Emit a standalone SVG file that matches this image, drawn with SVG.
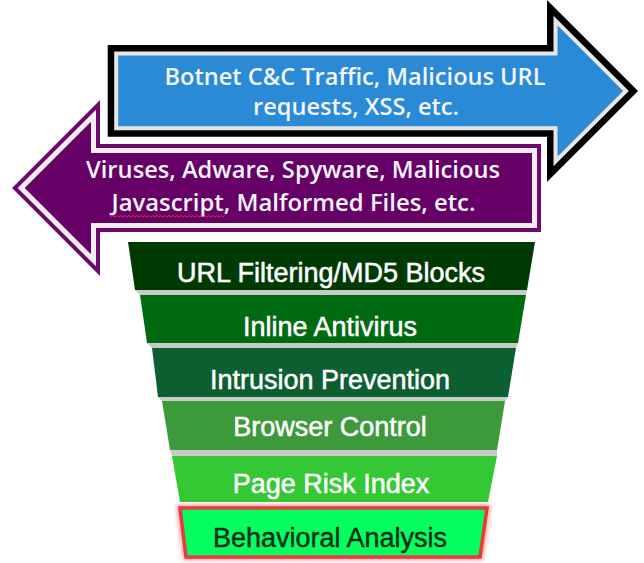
<svg xmlns="http://www.w3.org/2000/svg" width="644" height="563" viewBox="0 0 644 563">
  <defs>
    <style>
      .arrowtxt { font-family: "Open Sans", Lato, "DejaVu Sans", sans-serif; font-weight: 600; font-size: 24px; fill: #f2f5fb; text-anchor: middle; }
      .layertxt { font-family: "Liberation Sans", Arial, sans-serif; font-size: 27px; fill: #ffffff; stroke: #ffffff; stroke-width: 0.5; text-anchor: middle; }
      .gap { fill: #c9c9c9; }
    </style>
    <filter id="glow" x="-10%" y="-20%" width="120%" height="140%">
      <feGaussianBlur stdDeviation="2"/>
    </filter>
  </defs>
  <rect width="644" height="563" fill="#ffffff"/>

  <g id="arrow-out">
    <path d="M116.2,53.5 L555.5,53.5 L555.5,20.5 L626,91 L555.5,161.5 L555.5,128.2 L116.2,128.2 Z" fill="#2a8ad6" stroke="#000000" stroke-width="17" stroke-linejoin="miter"/>
    <path d="M116.2,53.5 L555.5,53.5 L555.5,20.5 L626,91 L555.5,161.5 L555.5,128.2 L116.2,128.2 Z" fill="#2a8ad6" stroke="#e6e6e6" stroke-width="4" stroke-linejoin="miter"/>
    <text class="arrowtxt" x="355" y="85" textLength="381" lengthAdjust="spacingAndGlyphs">Botnet C&amp;C Traffic, Malicious URL</text>
    <text class="arrowtxt" x="356" y="115" textLength="206" lengthAdjust="spacingAndGlyphs">requests, XSS, etc.</text>
  </g>

  <g id="arrow-in">
    <path d="M21.2,188 L93.5,115.7 L93.5,150.5 L534.5,150.5 L534.5,225.5 L93.5,225.5 L93.5,260.3 Z" fill="#660066" stroke="#6e0a6e" stroke-width="13" stroke-linejoin="miter"/>
    <path d="M21.2,188 L93.5,115.7 L93.5,150.5 L534.5,150.5 L534.5,225.5 L93.5,225.5 L93.5,260.3 Z" fill="#660066" stroke="#f2eef2" stroke-width="5" stroke-linejoin="miter"/>
    <text class="arrowtxt" x="293" y="178" textLength="414" lengthAdjust="spacingAndGlyphs">Viruses, Adware, Spyware, Malicious</text>
    <text class="arrowtxt" x="293.5" y="211" textLength="364" lengthAdjust="spacingAndGlyphs">Javascript, Malformed Files, etc.</text>
    <path d="M111,217 l2,-1.5 l2,1.5 l2,-1.5 l2,1.5 l2,-1.5 l2,1.5 l2,-1.5 l2,1.5 l2,-1.5 l2,1.5 l2,-1.5 l2,1.5 l2,-1.5 l2,1.5 l2,-1.5 l2,1.5 l2,-1.5 l2,1.5 l2,-1.5 l2,1.5 l2,-1.5 l2,1.5 l2,-1.5 l2,1.5 l2,-1.5 l2,1.5 l2,-1.5 l2,1.5 l2,-1.5 l2,1.5 l2,-1.5 l2,1.5 l2,-1.5 l2,1.5 l2,-1.5 l2,1.5 l2,-1.5 l2,1.5 l2,-1.5 l2,1.5 l2,-1.5 l2,1.5 l2,-1.5 l2,1.5 l2,-1.5 l2,1.5 l2,-1.5 l2,1.5 l2,-1.5 l2,1.5 l2,-1.5 l2,1.5 l2,-1.5 l2,1.5 l2,-1.5 l2,1.5 l2,-1.5" fill="none" stroke="#e03a3a" stroke-width="1" opacity="0.85"/>
  </g>

  <g id="gaps">
    <polygon class="gap" points="135,290 527,290 526,295 140,295"/>
    <polygon class="gap" points="147,343 518,343 516,348 152,348"/>
    <polygon class="gap" points="158,397 508,397 505,401 162,401"/>
    <polygon class="gap" points="170,450 497,450 497,456 172,456"/>
  </g>

  <g id="layer-1">
    <polygon points="128,242 535,242 527,290 135,290" fill="#003a03"/>
    <text class="layertxt" x="331" y="282">URL Filtering/MD5 Blocks</text>
  </g>
  <g id="layer-2">
    <polygon points="140,295 526,295 518,343 147,343" fill="#006a10"/>
    <text class="layertxt" x="330" y="336">Inline Antivirus</text>
  </g>
  <g id="layer-3">
    <polygon points="152,348 516,348 508,397 158,397" fill="#0b5f30"/>
    <text class="layertxt" x="330" y="389">Intrusion Prevention</text>
  </g>
  <g id="layer-4">
    <polygon points="162,401 505,401 497,450 170,450" fill="#3c9a3b"/>
    <text class="layertxt" x="330" y="436">Browser Control</text>
  </g>
  <g id="layer-5">
    <polygon points="172,456 497,456 488,502 180,502" fill="#34c934"/>
    <text class="layertxt" x="331" y="493">Page Risk Index</text>
  </g>
  <g id="layer-6">
    <polygon points="180,508 487,508 480,557 186,557" fill="none" stroke="#ff6060" stroke-width="6" opacity="0.7" filter="url(#glow)"/>
    <polygon points="180,508 487,508 480,557 186,557" fill="#05ff60" stroke="#e83a3a" stroke-width="3.5"/>
    <text class="layertxt" x="330" y="547" style="fill:#10301a;stroke:#10301a">Behavioral Analysis</text>
  </g>
</svg>
